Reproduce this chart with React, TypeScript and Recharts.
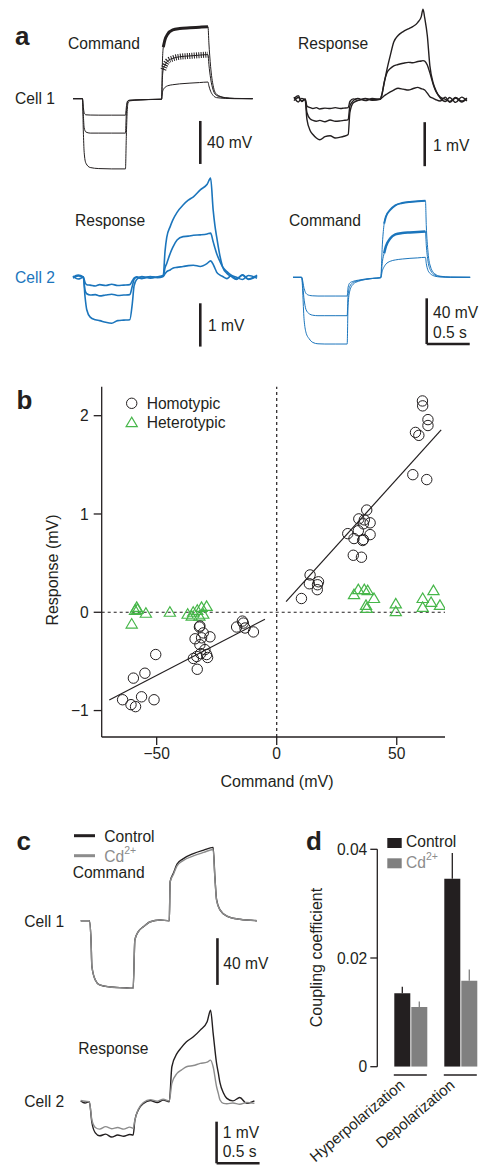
import React from 'react';
import {
  LineChart, Line, XAxis, YAxis, ReferenceLine,
  ScatterChart, Scatter, BarChart, Bar, ErrorBar,
} from 'recharts';

const FONT = '"Liberation Sans", Arial, Helvetica, sans-serif';
const INK = '#231f20';
const BLUE = '#1b75bc';
const GREEN = '#46b649';
const GRAY = '#8c8c8c';
const BAR_GRAY = '#808080';
const FS = 15.6;

// ---------- Panel a, cell 1 command (mV vs s) ----------
const a1Times = [0, 0.11, 0.12, 0.13, 0.15, 0.2, 0.3, 0.45, 0.61, 0.62, 0.63, 0.64, 0.66, 0.78, 0.9, 1.03, 1.04, 1.05, 1.07, 1.1, 1.16, 1.24, 1.36, 1.47, 1.57, 1.58, 1.6, 1.63, 1.67, 1.77, 1.88, 2.09];
const a1Big = [0, 0, -30, -50, -60, -64, -65, -65.3, -65.3, -35, -12, -4, -2, -1.2, -0.8, -0.5, 35, 48, 55, 60, 64, 65.3, 66, 66.5, 67, 52, 30, 12, 4, 1, 0.3, 0];
const a1Mid = [0, 0, -15, -27, -31, -32, -32, -32, -32, -14, -5, -2, -1.5, -1.0, -0.7, -0.5, 20, 27, 31, 35, 37.5, 39, 39.8, 40.5, 41, 32, 19, 8, 3, 0.8, 0.2, 0];
const a1Small = [0, 0, -8, -13, -15, -15.2, -15.3, -15.3, -15.3, -8, -3, -1.8, -1.4, -1.0, -0.7, -0.5, 6, 8.5, 10.5, 12, 13, 13.8, 14.5, 15, 15.5, 12, 7, 3, 1, 0.3, 0, 0];

// ---------- Panel a, cell 1 response (mV vs s) ----------
const a2Times = [0, 0.05, 0.09, 0.13, 0.15, 0.19, 0.22, 0.26, 0.3, 0.36, 0.42, 0.48, 0.54, 0.58, 0.63, 0.65, 0.69, 0.74, 0.83, 0.91, 1.0, 1.02, 1.05, 1.08, 1.12, 1.16, 1.21, 1.27, 1.33, 1.38, 1.44, 1.48, 1.5, 1.52, 1.55, 1.58, 1.62, 1.65, 1.7, 1.76, 1.81, 1.88, 1.95, 2.01];
const a2Big = [0.05, -0.06, 0.02, -0.02, -0.45, -0.72, -0.8, -0.88, -0.92, -0.85, -0.83, -0.88, -0.86, -0.84, -0.8, -0.3, -0.08, -0.03, 0.01, -0.02, 0.0, 0.1, 0.38, 0.67, 1.0, 1.3, 1.45, 1.54, 1.6, 1.65, 1.75, 1.88, 2.05, 1.85, 1.45, 0.76, 0.36, 0.2, 0.03, -0.05, 0.04, -0.07, 0.05, -0.04];
const a2Mid = [-0.03, 0.04, -0.04, 0.0, -0.3, -0.45, -0.48, -0.5, -0.48, -0.51, -0.47, -0.5, -0.49, -0.48, -0.46, -0.15, -0.03, 0.02, -0.03, 0.02, 0.0, 0.08, 0.4, 0.6, 0.7, 0.76, 0.79, 0.82, 0.84, 0.83, 0.86, 0.87, 0.88, 0.87, 0.78, 0.6, 0.33, 0.18, 0.05, 0.0, -0.05, 0.04, -0.04, 0.03];
const a2Small = [0.02, 0.08, -0.05, 0.01, -0.15, -0.19, -0.21, -0.19, -0.22, -0.2, -0.21, -0.19, -0.21, -0.2, -0.19, -0.05, 0.01, -0.02, 0.02, -0.01, 0.0, 0.03, 0.08, 0.12, 0.17, 0.21, 0.25, 0.23, 0.21, 0.24, 0.27, 0.24, 0.23, 0.21, 0.14, 0.06, 0.02, -0.01, -0.04, 0.05, -0.07, 0.03, -0.06, 0.02];

// ---------- Panel a, cell 2 response ----------
const b1Times = [0, 0.06, 0.12, 0.14, 0.16, 0.2, 0.26, 0.31, 0.38, 0.45, 0.52, 0.59, 0.66, 0.69, 0.71, 0.74, 0.8, 0.9, 0.98, 1.05, 1.07, 1.09, 1.13, 1.16, 1.21, 1.28, 1.34, 1.4, 1.48, 1.56, 1.6, 1.63, 1.65, 1.67, 1.71, 1.74, 1.79, 1.84, 1.9, 1.97, 2.04, 2.14];
const b1Big = [0.03, -0.04, 0.0, -0.45, -0.75, -0.92, -0.98, -1.0, -1.04, -1.06, -1.0, -0.99, -0.98, -0.6, -0.2, -0.05, 0.02, -0.02, 0.01, 0.05, 0.6, 0.92, 1.17, 1.32, 1.5, 1.67, 1.78, 1.86, 2.02, 2.15, 2.29, 1.55, 1.2, 0.94, 0.48, 0.24, 0.09, 0.02, -0.05, 0.06, -0.04, 0.05];
const b1Mid = [-0.02, 0.03, 0.0, -0.3, -0.38, -0.41, -0.4, -0.43, -0.41, -0.39, -0.42, -0.41, -0.4, -0.2, -0.05, 0.0, -0.03, 0.02, -0.01, 0.03, 0.22, 0.32, 0.55, 0.69, 0.86, 0.94, 0.95, 0.97, 0.98, 1.0, 1.02, 0.82, 0.68, 0.55, 0.36, 0.24, 0.13, 0.05, 0.0, -0.05, 0.04, -0.02];
const b1Small = [0.0, 0.05, 0.01, -0.12, -0.17, -0.18, -0.2, -0.17, -0.19, -0.16, -0.19, -0.18, -0.17, -0.08, -0.02, 0.01, -0.02, 0.01, 0.0, 0.02, 0.08, 0.13, 0.17, 0.21, 0.23, 0.25, 0.27, 0.28, 0.25, 0.32, 0.38, 0.3, 0.21, 0.12, 0.05, 0.02, -0.03, 0.04, -0.04, 0.05, -0.05, 0.03];

// ---------- Panel a, cell 2 command ----------
const b2Times = [0, 0.08, 0.1, 0.13, 0.15, 0.19, 0.23, 0.29, 0.37, 0.49, 0.63, 0.64, 0.66, 0.7, 0.76, 0.84, 0.93, 1.02, 1.04, 1.06, 1.08, 1.13, 1.19, 1.27, 1.36, 1.45, 1.54, 1.55, 1.57, 1.6, 1.65, 1.71, 1.83, 2.06];
const b2Big = [0, 0, 0, -38, -48, -54, -57, -58.2, -58.4, -58.4, -58.4, -25, -12, -6, -3.5, -2, -1, -0.4, 30, 47, 53, 59, 63, 65, 66, 66.5, 67, 45, 22, 9, 3, 1, 0.2, 0];
const b2Mid = [0, 0, 0, -20, -28, -32, -33.2, -33.6, -33.6, -33.6, -33.6, -16, -8, -4.5, -3, -1.8, -1, -0.4, 14, 21, 27, 34, 37.5, 38.8, 39.3, 39.7, 40, 28, 14, 6, 2, 0.6, 0.1, 0];
const b2Small = [0, 0, 0, -10, -14, -15.8, -16.2, -16.4, -16.4, -16.4, -16.4, -9, -5, -3.5, -2.5, -1.5, -0.8, -0.3, 6, 9.3, 11.5, 14, 15.2, 16, 16.6, 17, 17.5, 12, 6, 3, 1, 0.3, 0, 0];

// ---------- Panel b scatter ----------
const homoCommand = [60.7, 60.8, 63.0, 63.0, 57.8, 59.2, 56.7, 62.5, 37.5, 34.2, 36.5, 38.9, 36.1, 34.0, 29.6, 32.2, 35.8, 38.9, 31.9, 35.3, 13.9, 13.6, 17.4, 16.9, 10.3, 17.0, 36.1,
  -32.0, -30.6, -27.8, -34.0, -31.3, -32.0, -29.9, -29.2, -34.7, -33.3, -31.7, -28.8, -33.1, -50.4, -54.9, -59.7, -56.3, -51.1, -64.2, -60.7, -58.8, -14.3, -13.9, -16.7, -13.2, -9.7, -32.2];
const homoResponse = [2.15, 2.10, 1.96, 1.90, 1.83, 1.80, 1.40, 1.35, 1.04, 0.95, 0.94, 0.91, 0.90, 0.83, 0.80, 0.75, 0.73, 0.79, 0.58, 0.56, 0.38, 0.29, 0.31, 0.23, 0.14, 0.28, 0.74,
  -0.14, -0.21, -0.25, -0.27, -0.26, -0.33, -0.38, -0.43, -0.47, -0.45, -0.42, -0.46, -0.58, -0.43, -0.62, -0.67, -0.86, -0.89, -0.89, -0.94, -0.96, -0.09, -0.11, -0.15, -0.16, -0.20, -0.15];
const heteroCommand = [32.2, 34.0, 36.5, 37.9, 40.5, 37.2, 37.5, 49.6, 49.6, 60.8, 65.3, 64.3, 68.0, 60.8,
  -60.4, -59.0, -58.3, -58.0, -54.5, -44.5, -37.1, -35.4, -33.1, -31.3, -29.2, -30.6, -32.2, -34.8];
const heteroResponse = [0.18, 0.23, 0.23, 0.22, 0.14, 0.07, 0.04, 0.085, 0.006, 0.14, 0.22, 0.10, 0.07, 0.05,
  -0.12, 0.02, 0.05, 0.03, -0.01, 0.0, -0.02, -0.04, 0.02, 0.05, 0.06, -0.02, -0.04, 0.0];
const fitNeg = [{ x: -69.75, y: -0.892 }, { x: -4.9, y: -0.071 }];
const fitPos = [{ x: 3.9, y: 0.108 }, { x: 68.5, y: 1.855 }];
const bXTicks = [-50, 0, 50];
const bYTicks = [-1, 0, 1, 2];

// ---------- Panel c ----------
const c1Times = [0, 0.1, 0.12, 0.13, 0.17, 0.22, 0.34, 0.5, 0.61, 0.63, 0.67, 0.73, 0.81, 0.92, 1.03, 1.04, 1.08, 1.12, 1.19, 1.31, 1.43, 1.54, 1.56, 1.58, 1.62, 1.7, 1.85, 2.05];
const c1Control = [0, 0, -16.5, -39, -50.8, -55, -56.8, -57.5, -57.9, -16.5, -9.4, -5.1, -0.9, 0.6, 0, 33.5, 41, 48.5, 53, 57.5, 60.5, 62.8, 38, 18, 9.3, 4, 1.2, 0];
const c1Cd = [0, 0, -16.5, -39, -50.8, -55, -56.8, -57.6, -58, -16.5, -9.4, -5.1, -0.9, 0.6, 0, 33, 40, 47, 51.5, 55.5, 58.5, 61, 37, 17.5, 9.2, 4, 1.2, 0];
const c2Times = [0, 0.05, 0.1, 0.13, 0.17, 0.22, 0.29, 0.36, 0.43, 0.5, 0.57, 0.61, 0.63, 0.67, 0.73, 0.81, 0.89, 0.96, 1.03, 1.06, 1.12, 1.17, 1.23, 1.31, 1.39, 1.47, 1.51, 1.54, 1.58, 1.6, 1.62, 1.66, 1.7, 1.77, 1.85, 1.93, 2.02];
const c2Control = [0.02, -0.03, 0.0, -0.5, -0.75, -0.82, -0.78, -0.85, -0.8, -0.83, -0.79, -0.8, -0.45, -0.2, -0.04, 0.03, -0.02, 0.04, 0.0, 0.84, 1.16, 1.3, 1.44, 1.56, 1.72, 1.92, 2.2, 1.65, 0.92, 0.69, 0.45, 0.21, 0.08, 0.02, 0.1, -0.04, 0.02];
const c2Cd = [0.03, 0.01, 0.0, -0.44, -0.62, -0.66, -0.6, -0.65, -0.62, -0.66, -0.61, -0.64, -0.44, -0.18, -0.02, 0.05, 0.01, 0.06, 0.02, 0.44, 0.68, 0.76, 0.84, 0.87, 0.92, 0.95, 1.0, 0.84, 0.36, 0.2, 0.04, -0.04, -0.05, -0.03, -0.06, -0.02, -0.04];

// ---------- Panel d ----------
const dCategories = ['Hyperpolarization', 'Depolarization'];
const dControlMean = [0.0135, 0.0346];
const dControlSem = [0.0012, 0.0047];
const dCdMean = [0.0110, 0.0158];
const dCdSem = [0.0010, 0.0021];
const dYTicks = [0, 0.02, 0.04];

// ---------- components ----------
type Series = { values: number[]; color: string; width: number; dash?: string; window?: [number, number] };
type ScaleBar = { t0: number; t1: number; v0: number; v1: number };
type TraceProps = { box: number[]; origin: number[]; pxPerSec: number; pxPerUnit: number; times: number[]; series: Series[]; bars: ScaleBar[] };

function Trace({ box, origin, pxPerSec, pxPerUnit, times, series, bars }: TraceProps) {
  const [l, t, r, b] = box;
  const [ox, oy] = origin;
  const xDomain = [(l - ox) / pxPerSec, (r - ox) / pxPerSec];
  const yDomain = [(oy - b) / pxPerUnit, (oy - t) / pxPerUnit];
  const data = times.map((tt, i) => {
    const row: Record<string, number | null> = { t: tt };
    series.forEach((s, j) => {
      const inWin = !s.window || (tt >= s.window[0] && tt <= s.window[1]);
      row['s' + j] = inWin ? s.values[i] : null;
    });
    return row;
  });
  return (
    <div style={{ position: 'absolute', left: l, top: t }}>
      <LineChart width={r - l} height={b - t} data={data} margin={{ top: 0, right: 0, bottom: 0, left: 0 }}>
        <XAxis dataKey="t" type="number" domain={xDomain} allowDataOverflow hide />
        <YAxis type="number" domain={yDomain} allowDataOverflow hide />
        {series.map((s, j) => (
          <Line key={j} dataKey={'s' + j} type="monotoneX" stroke={s.color} strokeWidth={s.width}
            strokeDasharray={s.dash} dot={false} activeDot={false} isAnimationActive={false} connectNulls={false} />
        ))}
        {bars.map((sb, k) => (
          <ReferenceLine key={k} segment={[{ x: sb.t0, y: sb.v0 }, { x: sb.t1, y: sb.v1 }]} stroke={INK} strokeWidth={2.6} ifOverflow="visible" />
        ))}
      </LineChart>
    </div>
  );
}

const minusFmt = (v: number) => (v < 0 ? '\u2212' + Math.abs(v) : String(v));

function CircleShape(props: any) {
  const { cx, cy } = props;
  return <circle cx={cx} cy={cy} r={5.2} fill="none" stroke={INK} strokeWidth={1} />;
}
function TriShape(props: any) {
  const { cx, cy } = props;
  return <polygon points={`${cx},${cy - 5.5} ${cx - 5.6},${cy + 4} ${cx + 5.6},${cy + 4}`} fill="none" stroke={GREEN} strokeWidth={1.2} />;
}

function GroupTick(props: any) {
  const { x, y, payload } = props;
  const ax = x - 4.5;
  const ay = y + 20;
  return (
    <g>
      <line x1={x - 16.5} x2={x + 16.5} y1={y + 8.3} y2={y + 8.3} stroke={INK} strokeWidth={1.5} />
      <text x={ax} y={ay} textAnchor="end" transform={`rotate(-40 ${ax} ${ay})`} fill={INK} fontSize={15.2} fontFamily={FONT}>{payload.value}</text>
    </g>
  );
}

function T({ x, y, children, color = INK, size = FS, anchor = 'start', rotate, weight }: any) {
  return (
    <text x={x} y={y} fill={color} fontSize={size} fontFamily={FONT} textAnchor={anchor} fontWeight={weight}
      transform={rotate !== undefined ? `rotate(${rotate} ${x} ${y})` : undefined}>{children}</text>
  );
}

export default function App() {
  const homo = homoCommand.map((x, i) => ({ x, y: homoResponse[i] }));
  const hetero = heteroCommand.map((x, i) => ({ x, y: heteroResponse[i] }));
  const dData = dCategories.map((name, i) => ({
    name, control: dControlMean[i], cd: dCdMean[i],
    controlErr: [0, dControlSem[i]], cdErr: [0, dCdSem[i]],
  }));
  const tickStyle = { fill: INK, fontSize: FS, fontFamily: FONT };

  return (
    <div style={{ position: 'absolute', left: 0, top: 0, width: 482, height: 1166, overflow: 'hidden', background: '#fff', fontFamily: FONT }}>
      {/* Panel a */}
      <Trace box={[70, 20, 258, 172]} origin={[73, 98.7]} pxPerSec={86} pxPerUnit={1.075} times={a1Times}
        series={[
          { values: a1Small, color: INK, width: 1 },
          { values: a1Mid, color: INK, width: 1 },
          { values: a1Big, color: INK, width: 1 },
          { values: a1Mid, color: INK, width: 6, dash: '1 1.3', window: [1.05, 1.57] },
          { values: a1Big, color: INK, width: 3, window: [1.05, 1.57] },
        ]}
        bars={[{ t0: 1.48, t1: 1.48, v0: -20.7, v1: -60.7 }]} />
      <Trace box={[290, 5, 472, 172]} origin={[294, 99.3]} pxPerSec={86} pxPerUnit={44} times={a2Times}
        series={[
          { values: a2Small, color: INK, width: 1.4 },
          { values: a2Mid, color: INK, width: 1.4 },
          { values: a2Big, color: INK, width: 1.4 },
        ]}
        bars={[{ t0: 1.52, t1: 1.52, v0: -0.52, v1: -1.52 }]} />
      <Trace box={[70, 170, 262, 352]} origin={[73, 277.3]} pxPerSec={86} pxPerUnit={43.3} times={b1Times}
        series={[
          { values: b1Small, color: BLUE, width: 1.6 },
          { values: b1Mid, color: BLUE, width: 1.6 },
          { values: b1Big, color: BLUE, width: 1.6 },
        ]}
        bars={[{ t0: 1.48, t1: 1.48, v0: -0.6, v1: -1.6 }]} />
      <Trace box={[290, 190, 474, 350]} origin={[293, 277.3]} pxPerSec={86} pxPerUnit={1.1425} times={b2Times}
        series={[
          { values: b2Small, color: BLUE, width: 1 },
          { values: b2Mid, color: BLUE, width: 1 },
          { values: b2Big, color: BLUE, width: 1 },
          { values: b2Mid, color: BLUE, width: 2.5, window: [1.06, 1.54] },
          { values: b2Big, color: BLUE, width: 2, window: [1.06, 1.54] },
        ]}
        bars={[{ t0: 1.555, t1: 1.555, v0: -18.4, v1: -58.4 }, { t0: 1.555, t1: 2.055, v0: -58.4, v1: -58.4 }]} />

      {/* Panel b */}
      <div style={{ position: 'absolute', left: 0, top: 370 }}>
        <ScatterChart width={482} height={430} margin={{ top: 16.7, right: 37, bottom: 33, left: 0 }}>
          <XAxis type="number" dataKey="x" domain={[-72.9, 70.1]} ticks={bXTicks} allowDataOverflow height={30}
            tickSize={8} tickMargin={3} tickFormatter={minusFmt} tick={tickStyle}
            axisLine={{ stroke: INK, strokeWidth: 1.3 }} tickLine={{ stroke: INK, strokeWidth: 1.3 }} />
          <YAxis type="number" dataKey="y" domain={[-1.269, 2.295]} ticks={bYTicks} allowDataOverflow width={101.7}
            tickSize={8} tickMargin={5} tickFormatter={minusFmt} tick={tickStyle}
            axisLine={{ stroke: INK, strokeWidth: 1.3 }} tickLine={{ stroke: INK, strokeWidth: 1.3 }} />
          <ReferenceLine y={0} stroke={INK} strokeDasharray="3 3" strokeWidth={1.2} />
          <ReferenceLine x={0} stroke={INK} strokeDasharray="3 3" strokeWidth={1.2} />
          <ReferenceLine segment={fitNeg} stroke={INK} strokeWidth={1.2} />
          <ReferenceLine segment={fitPos} stroke={INK} strokeWidth={1.2} />
          <Scatter data={hetero} shape={<TriShape />} isAnimationActive={false} />
          <Scatter data={homo} shape={<CircleShape />} isAnimationActive={false} />
        </ScatterChart>
      </div>

      {/* Panel c */}
      <Trace box={[78, 840, 262, 992]} origin={[80.7, 920.7]} pxPerSec={86} pxPerUnit={1.1675} times={c1Times}
        series={[
          { values: c1Control, color: INK, width: 1.4 },
          { values: c1Cd, color: GRAY, width: 1.4 },
        ]}
        bars={[{ t0: 1.59, t1: 1.59, v0: -15, v1: -55 }]} />
      <Trace box={[78, 1000, 264, 1166]} origin={[80.7, 1101.7]} pxPerSec={86} pxPerUnit={41.6} times={c2Times}
        series={[
          { values: c2Control, color: INK, width: 1.4 },
          { values: c2Cd, color: GRAY, width: 1.4 },
        ]}
        bars={[{ t0: 1.58, t1: 1.58, v0: -0.48, v1: -1.48 }, { t0: 1.58, t1: 2.08, v0: -1.48, v1: -1.48 }]} />

      {/* Panel d */}
      <div style={{ position: 'absolute', left: 300, top: 830 }}>
        <BarChart width={200} height={336} data={dData} margin={{ top: 19.3, right: 14.7, bottom: 0, left: 0 }} barGap={1} barSize={16}>
          <XAxis dataKey="name" height={99.3} axisLine={false} tickLine={false} tickSize={0} tickMargin={0}
            interval={0} padding={{ left: 8, right: 0 }} tick={<GroupTick />} />
          <YAxis type="number" domain={[0, 0.04]} ticks={dYTicks} allowDataOverflow width={77.3}
            tickSize={7} tickMargin={3} tick={tickStyle} tickFormatter={(v: number) => (v === 0 ? '0' : v.toFixed(2))}
            axisLine={{ stroke: INK, strokeWidth: 1.3 }} tickLine={{ stroke: INK, strokeWidth: 1.3 }} />
          <Bar dataKey="control" fill={INK} isAnimationActive={false}>
            <ErrorBar dataKey="controlErr" width={0} stroke={INK} strokeWidth={1.3} direction="y" />
          </Bar>
          <Bar dataKey="cd" fill={BAR_GRAY} isAnimationActive={false}>
            <ErrorBar dataKey="cdErr" width={0} stroke={BAR_GRAY} strokeWidth={1.3} direction="y" />
          </Bar>
        </BarChart>
      </div>

      {/* Text overlay */}
      <svg width={482} height={1166} style={{ position: 'absolute', left: 0, top: 0, pointerEvents: 'none' }}>
        <T x={15} y={45} size={26} weight="bold">a</T>
        <T x={68} y={48.5}>Command</T>
        <T x={298} y={48.5}>Response</T>
        <T x={15} y={103.5}>Cell 1</T>
        <T x={207} y={147.5}>40 mV</T>
        <T x={433} y={150.5}>1 mV</T>
        <T x={75} y={225.5}>Response</T>
        <T x={289} y={225.5}>Command</T>
        <T x={15} y={282.5} color={BLUE}>Cell 2</T>
        <T x={208} y={330.5}>1 mV</T>
        <T x={433} y={318}>40 mV</T>
        <T x={433} y={337.5}>0.5 s</T>

        <T x={16.5} y={409} size={26} weight="bold">b</T>
        <circle cx={131.7} cy={403.3} r={5.2} fill="none" stroke={INK} strokeWidth={1} />
        <polygon points={`131.7,417.2 126.1,426.7 137.3,426.7`} fill="none" stroke={GREEN} strokeWidth={1.2} />
        <T x={146.7} y={409}>Homotypic</T>
        <T x={146.7} y={428.2}>Heterotypic</T>
        <T x={58} y={570} size={16} anchor="middle" rotate={-90}>Response (mV)</T>
        <T x={277} y={787} size={16} anchor="middle">Command (mV)</T>

        <T x={16.5} y={850} size={26} weight="bold">c</T>
        <line x1={74} x2={95} y1={835.7} y2={835.7} stroke={INK} strokeWidth={3} />
        <line x1={74} x2={95} y1={855.7} y2={855.7} stroke={GRAY} strokeWidth={3} />
        <T x={104.3} y={841.5}>Control</T>
        <text x={104.3} y={861.5} fill={GRAY} fontSize={FS} fontFamily={FONT}>Cd<tspan fontSize={10.5} dy={-8}>2+</tspan></text>
        <T x={72.7} y={878}>Command</T>
        <T x={24.3} y={927}>Cell 1</T>
        <T x={223.3} y={968.8}>40 mV</T>
        <T x={78.3} y={1053.8}>Response</T>
        <T x={24.3} y={1106.5}>Cell 2</T>
        <T x={222.7} y={1138}>1 mV</T>
        <T x={222.7} y={1157}>0.5 s</T>

        <T x={306} y={850} size={26} weight="bold">d</T>
        <rect x={387.3} y={838} width={14.4} height={10} fill={INK} />
        <rect x={387.3} y={858.3} width={14.4} height={10} fill={BAR_GRAY} />
        <T x={406} y={846.7}>Control</T>
        <text x={406} y={868.3} fill={GRAY} fontSize={FS} fontFamily={FONT}>Cd<tspan fontSize={10.5} dy={-8}>2+</tspan></text>
        <T x={322} y={957.5} size={16} anchor="middle" rotate={-90}>Coupling coefficient</T>
      </svg>
    </div>
  );
}
